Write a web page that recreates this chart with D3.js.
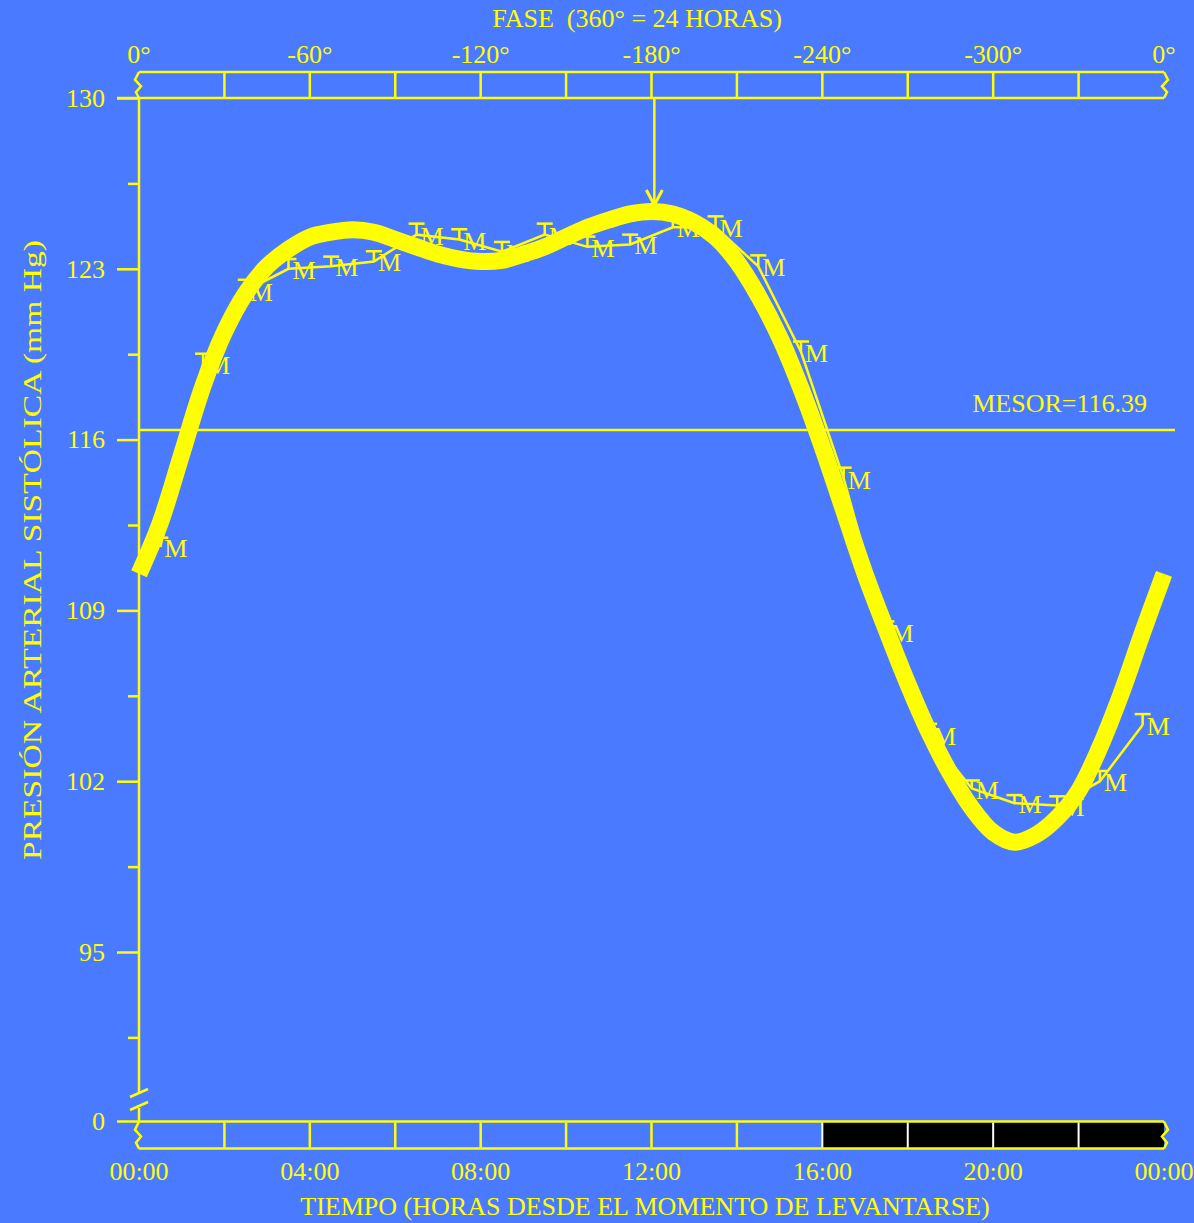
<!DOCTYPE html>
<html><head><meta charset="utf-8">
<script src="https://cdn.jsdelivr.net/npm/d3@7"></script>
<style>
html,body{margin:0;padding:0;background:#4a7aff;}
svg{display:block;}
text{font-family:"Liberation Serif","Times New Roman",serif;fill:#ffff00;}
</style>
</head><body>
<svg id="chart" width="1194" height="1223"></svg>
<script>
// ---- data ----
const meanHours = [0.5,1.5,2.5,3.5,4.5,5.5,6.5,7.5,8.5,9.5,10.5,11.5,12.5,13.5,14.5,15.5,16.5,17.5,18.5,19.5,20.5,21.5,22.5,23.5];
const meanValues = [111.6,119.1,122.1,123.0,123.1,123.3,124.4,124.2,123.7,124.4,123.9,124.0,124.7,124.7,123.1,119.6,114.4,108.1,103.9,101.7,101.1,101.0,102.0,104.3];
const semValues  = [0.38,0.42,0.45,0.40,0.40,0.42,0.45,0.42,0.40,0.45,0.42,0.40,0.45,0.45,0.45,0.42,0.45,0.45,0.45,0.33,0.33,0.38,0.42,0.45];
const fitHours  = [0,0.5,1,1.5,2,2.5,3,3.5,4,4.5,5,5.5,6,6.5,7,7.5,8,8.5,9,9.5,10,10.5,11,11.5,12,12.5,13,13.5,14,14.5,15,15.5,16,16.5,17,17.5,18,18.5,19,19.5,20,20.5,21,21.5,22,22.5,23,23.5,24];
const fitValues = [110.5,112.6,115.4,118.2,120.4,122.0,123.1,123.8,124.3,124.5,124.6,124.5,124.2,123.9,123.6,123.4,123.3,123.35,123.6,123.9,124.3,124.7,125.0,125.25,125.35,125.25,124.9,124.3,123.3,121.9,120.2,118.1,115.7,113.1,110.5,108.2,106.0,104.0,102.3,100.9,99.9,99.5,99.8,100.5,101.6,103.4,105.6,108.1,110.5];
const yTickValues = [130,123,116,109,102,95];
const yMinorValues = [126.5,119.5,112.5,105.5,98.5,91.5];
const zeroLabelValue = 88.05;   // axis position where the broken axis shows "0"
const timeTickHours = [0,2,4,6,8,10,12,14,16,18,20,22,24];
const timeLabelHours = [0,4,8,12,16,20,24];
const timeLabels = ["00:00","04:00","08:00","12:00","16:00","20:00","00:00"];
const phaseTickDegrees = [0,-30,-60,-90,-120,-150,-180,-210,-240,-270,-300,-330,-360];
const phaseLabelDegrees = [0,-60,-120,-180,-240,-300,-360];
const phaseLabels = ["0°","-60°","-120°","-180°","-240°","-300°","0°"];
const darkSpan = [16,24];
const mesor = 116.39;
const acrophaseDeg = -181;

// ---- layout ----
const YEL = "#ffff00";
const FS = 26;
const svg = d3.select("#chart");
const x = d3.scaleLinear().domain([0,24]).range([139,1164]);
const ph = d3.scaleLinear().domain([0,-360]).range([139,1164]);
const y = d3.scaleLinear().domain([95,130]).range([952,98]);
const topBox = [72, y(130)];
const botBox = [y(zeroLabelValue), y(zeroLabelValue)+27];

const g = svg.append("g");

function zig(x0, yTop, yBot, dir){
  const h = yBot - yTop;
  return d3.line()([[x0, yTop],[x0-4*dir, yTop+0.3*h],[x0+2*dir, yTop+0.55*h],[x0-3*dir, yTop+0.78*h],[x0, yBot]]);
}
// top phase box
g.append("line").attr("x1",x(0)).attr("x2",x(24)).attr("y1",topBox[0]).attr("y2",topBox[0]).attr("stroke",YEL).attr("stroke-width",2.5);
g.append("line").attr("x1",117).attr("x2",x(24)).attr("y1",topBox[1]).attr("y2",topBox[1]).attr("stroke",YEL).attr("stroke-width",2.5);
g.append("path").attr("d",zig(x(0),topBox[0],topBox[1],1)).attr("fill","none").attr("stroke",YEL).attr("stroke-width",2.5);
g.append("path").attr("d",zig(x(24),topBox[0],topBox[1],-1)).attr("fill","none").attr("stroke",YEL).attr("stroke-width",2.5);
g.selectAll(".ptick").data(phaseTickDegrees.slice(1,-1)).join("line")
  .attr("x1",d=>ph(d)).attr("x2",d=>ph(d)).attr("y1",topBox[0]).attr("y2",topBox[1])
  .attr("stroke",YEL).attr("stroke-width",2.5);
g.selectAll(".plab").data(phaseLabelDegrees).join("text")
  .attr("x",d=>ph(d)).attr("y",63).attr("text-anchor","middle").attr("font-size",FS)
  .text((d,i)=>phaseLabels[i]);
g.append("text").attr("x",637).attr("y",27).attr("text-anchor","middle").attr("font-size",FS)
  .style("white-space","pre").text("FASE  (360° = 24 HORAS)");

// bottom time box
g.append("rect").attr("x",x(darkSpan[0])).attr("y",botBox[0]).attr("width",x(darkSpan[1])-x(darkSpan[0])).attr("height",botBox[1]-botBox[0]).attr("fill","#000");
g.append("line").attr("x1",117).attr("x2",x(24)).attr("y1",botBox[0]).attr("y2",botBox[0]).attr("stroke",YEL).attr("stroke-width",2.5);
g.append("line").attr("x1",x(0)).attr("x2",x(24)).attr("y1",botBox[1]).attr("y2",botBox[1]).attr("stroke",YEL).attr("stroke-width",2.5);
g.append("path").attr("d",zig(x(0),botBox[0],botBox[1],1)).attr("fill","none").attr("stroke",YEL).attr("stroke-width",2.5);
g.append("path").attr("d",zig(x(24),botBox[0],botBox[1],-1)).attr("fill","none").attr("stroke",YEL).attr("stroke-width",2.5);
g.selectAll(".ttick").data(timeTickHours.slice(1,-1)).join("line")
  .attr("x1",d=>x(d)).attr("x2",d=>x(d)).attr("y1",botBox[0]+1).attr("y2",botBox[1]-1)
  .attr("stroke",d=>d>=darkSpan[0]?"#ffffff":YEL).attr("stroke-width",d=>d>=darkSpan[0]?2:2.5);
g.selectAll(".tlab").data(timeLabelHours).join("text")
  .attr("x",d=>x(d)).attr("y",1180).attr("text-anchor","middle").attr("font-size",FS)
  .text((d,i)=>timeLabels[i]);
g.append("text").attr("x",645).attr("y",1215).attr("text-anchor","middle").attr("font-size",FS)
  .text("TIEMPO (HORAS DESDE EL MOMENTO DE LEVANTARSE)");

// y axis (broken)
const breakTop = 1094, breakBot = 1108;
g.append("line").attr("x1",x(0)).attr("x2",x(0)).attr("y1",y(130)).attr("y2",breakTop).attr("stroke",YEL).attr("stroke-width",2.5);
g.append("line").attr("x1",x(0)).attr("x2",x(0)).attr("y1",breakBot).attr("y2",botBox[0]).attr("stroke",YEL).attr("stroke-width",2.5);
[breakTop+3, breakBot+2].forEach(yy=>{
  g.append("line").attr("x1",x(0)-9).attr("x2",x(0)+9).attr("y1",yy).attr("y2",yy-8).attr("stroke",YEL).attr("stroke-width",2.5);
});
const yAxis = d3.axisLeft(y).tickValues(yTickValues).tickSize(22).tickPadding(12).tickFormat(d3.format("d"));
const ya = g.append("g").attr("transform",`translate(${x(0)},0)`).call(yAxis);
ya.select(".domain").remove();
ya.selectAll("line").attr("stroke",YEL).attr("stroke-width",2.5);
ya.selectAll("text").attr("fill",YEL).attr("font-size",FS).attr("font-family","Liberation Serif, serif");
const yMinor = d3.axisLeft(y).tickValues(yMinorValues).tickSize(11).tickFormat("");
const ym = g.append("g").attr("transform",`translate(${x(0)},0)`).call(yMinor);
ym.select(".domain").remove();
ym.selectAll("line").attr("stroke",YEL).attr("stroke-width",2.5);
g.append("text").attr("x",105).attr("y",y(zeroLabelValue)+8).attr("text-anchor","end").attr("font-size",FS).text("0");
g.append("text").attr("transform",`translate(41,550) rotate(-90)`).attr("text-anchor","middle").attr("font-size",FS)
  .attr("textLength",620).attr("lengthAdjust","spacingAndGlyphs")
  .text("PRESIÓN ARTERIAL SISTÓLICA (mm Hg)");

// MESOR
g.append("line").attr("x1",x(0)).attr("x2",1175).attr("y1",y(mesor)).attr("y2",y(mesor)).attr("stroke",YEL).attr("stroke-width",2.5);
g.append("text").attr("x",1147).attr("y",y(mesor)-18).attr("text-anchor","end").attr("font-size",FS).text("MESOR="+mesor.toFixed(2));

// means: thin line, error caps, M labels
const pts = meanHours.map((h,i)=>({h, v:meanValues[i], s:semValues[i]}));
g.append("path").datum(pts).attr("fill","none").attr("stroke",YEL).attr("stroke-width",2.5)
  .attr("d",d3.line().x(d=>x(d.h)).y(d=>y(d.v)));
const mk = g.selectAll(".mk").data(pts).join("g");
mk.append("line").attr("x1",d=>x(d.h)).attr("x2",d=>x(d.h)).attr("y1",d=>y(d.v)).attr("y2",d=>y(d.v+d.s)).attr("stroke",YEL).attr("stroke-width",2.5);
mk.append("line").attr("x1",d=>x(d.h)-8).attr("x2",d=>x(d.h)+8).attr("y1",d=>y(d.v+d.s)).attr("y2",d=>y(d.v+d.s)).attr("stroke",YEL).attr("stroke-width",2.5);
mk.append("text").attr("x",d=>x(d.h)+4).attr("y",d=>y(d.v)+10).attr("font-size",FS).text("M");

// fitted curve (thick)
const fit = fitHours.map((h,i)=>({h, v:fitValues[i]}));
g.append("path").datum(fit).attr("fill","none").attr("stroke",YEL).attr("stroke-width",17)
  .attr("stroke-linejoin","round").attr("stroke-linecap","butt")
  .attr("d",d3.line().x(d=>x(d.h)).y(d=>y(d.v)).curve(d3.curveCatmullRom.alpha(0.5)));

// acrophase arrow
const ax = ph(acrophaseDeg);
g.append("line").attr("x1",ax).attr("x2",ax).attr("y1",y(130)).attr("y2",205).attr("stroke",YEL).attr("stroke-width",2.5);
g.append("path").attr("d",d3.line()([[ax-8,190],[ax,205],[ax+8,190]])).attr("fill","none").attr("stroke",YEL).attr("stroke-width",3);
</script>
</body></html>
